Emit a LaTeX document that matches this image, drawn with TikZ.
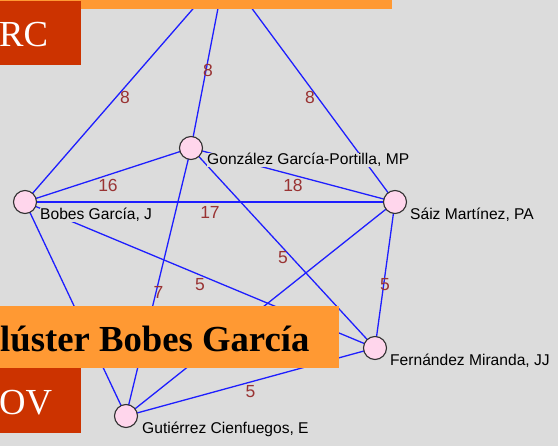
\documentclass[tikz,border=0pt]{standalone}
\usepackage{fontspec}
\setmainfont{Liberation Serif}
\newfontfamily\labfont{Liberation Sans}
\usetikzlibrary{calc}
\definecolor{bgc}{HTML}{DCDCDC}
\definecolor{pinkfill}{HTML}{FFD6EC}
\definecolor{ringc}{HTML}{303030}
\definecolor{edgec}{HTML}{1E1EFF}
\definecolor{elabc}{HTML}{993333}
\definecolor{orangec}{HTML}{FF9933}
\definecolor{redc}{HTML}{CC3300}
\pgfdeclarelayer{back}
\pgfdeclarelayer{edges}
\pgfdeclarelayer{front}
\pgfsetlayers{back,edges,main,front}
\tikzset{
  person/.style={circle, draw=ringc, line width=1.1pt, fill=pinkfill, minimum size=23pt, inner sep=0pt},
  plabel/.style={anchor=base west, fill=bgc, inner sep=0.5pt, text=black, font=\labfont\fontsize{15.6}{18}\selectfont},
  link/.style={draw=edgec, line width=1.3pt},
  elab/.style={text=elabc, inner sep=0pt, font=\labfont\fontsize{17.5}{20}\selectfont},
  banner/.style={fill=orangec, draw=none},
  tag/.style={fill=redc, draw=none},
  bigtext/.style={anchor=base west, inner sep=0pt, font=\fontsize{36.7}{40}\selectfont},
}
\begin{document}
\begin{tikzpicture}[x=1pt, y=-1pt]
\useasboundingbox (0,0) rectangle (558,446);
\begin{pgfonlayer}{back}
  \fill[bgc] (0,0) rectangle (558,446);
\end{pgfonlayer}
\clip (0,0) rectangle (558,446);
% people
\coordinate (T) at (225,-28);
\node[person] (B) at (25,202) {};
\node[person] (G) at (191,148) {};
\node[person] (S) at (395,202) {};
\node[person] (F) at (375,348) {};
\node[person] (U) at (126,416) {};
% names
\node[plabel] (Bl) at (39.5,220) {Bobes García, J};
\node[plabel] (Gl) at (206.5,165) {González García-Portilla, MP};
\node[plabel] (Sl) at (409.5,220) {Sáiz Martínez, PA};
\node[plabel] (Fl) at (389.5,366) {Fernández Miranda, JJ};
\node[plabel] (Ul) at (141.5,434) {Gutiérrez Cienfuegos, E};
% links
\begin{pgfonlayer}{edges}
  \draw[link] (T) -- (B.center) node[elab, midway, yshift=-10pt] {8};
  \draw[link] (T) -- (G.center) node[elab, midway, yshift=-10pt] {8};
  \draw[link] (T) -- (S.center) node[elab, midway, yshift=-10pt] {8};
  \draw[link] (B.center) -- (G.center) node[elab, midway, yshift=-10pt] {16};
  \draw[link] (B.center) -- (S.center) node[elab, midway, yshift=-10pt] {17};
  \draw[link] (G.center) -- (S.center) node[elab, midway, yshift=-10pt] {18};
  \draw[link] (G.center) -- (U.center) node[elab, midway, yshift=-10pt] {7};
  \draw[link] (G.center) -- (F.center) node[elab, midway, yshift=-10pt] {5};
  \draw[link] (B.center) -- (F.center) node[elab, midway, yshift=-10pt] {5};
  \draw[link] (S.center) -- (F.center) node[elab, midway, yshift=-10pt] {5};
  \draw[link] (F.center) -- (U.center) node[elab, midway, yshift=-10pt] {5};
  \draw[link] (B.center) -- (U.center);
  \draw[link] (S.center) -- (U.center);
\end{pgfonlayer}
% overlays
\begin{pgfonlayer}{front}
  \fill[banner] (0,0) rectangle (392,9);
  \fill[tag] (0,1) rectangle (81,65);
  \node[bigtext, text=white] (rc) at (-1,47) {RC};
  \fill[banner] (0,306) rectangle (339,368);
  \node[bigtext, text=black] (cl) at (0,352) {\bfseries lúster Bobes García};
  \fill[tag] (0,368) rectangle (81,433);
  \node[bigtext, text=white] (ov) at (-1,415) {OV};
\end{pgfonlayer}
\end{tikzpicture}
\end{document}
